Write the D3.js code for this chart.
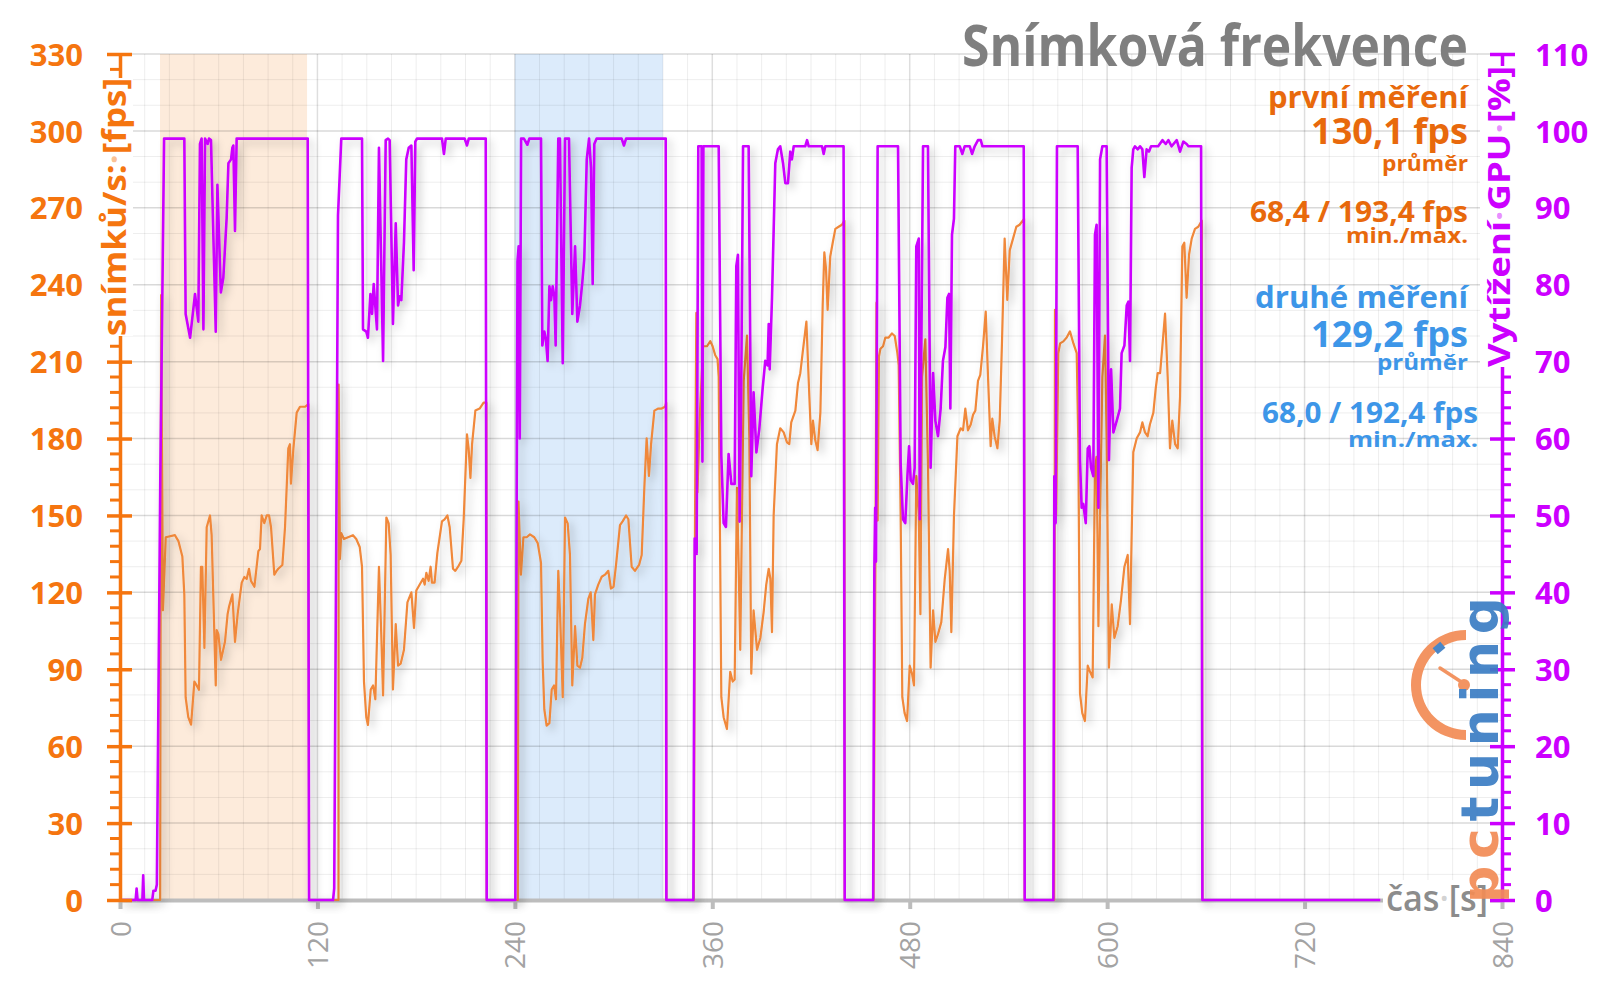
<!DOCTYPE html>
<html><head><meta charset="utf-8">
<script src="https://cdn.jsdelivr.net/npm/d3@7"></script>
<style>body{margin:0;background:#fff}svg{display:block}</style>
</head><body>
<svg id="chart" width="1600" height="998"></svg>
<script>
// ---- data (time in s) ----
const fpsTime = [0,24.4,25,26.1,27.8,33.4,35.5,37.9,39.1,39.9,41.5,43.2,45.2,46.6,48,49.2,50,51.3,52.7,54.7,55.7,56.7,58.2,58.8,59.8,61.4,63.8,65.4,66.3,68.3,69.9,71.5,74,75.6,77,78.4,79.6,81.7,84.1,85.1,86.1,87.7,89.2,90.6,91.8,93.8,95.2,96.2,98.7,100.3,102.3,103.3,103.9,105.4,107.4,109.4,112.5,114.5,114.9,
 132.8,132.9,133.7,134.5,136.1,138.6,141.6,143.6,145.7,147.1,148.3,149.7,150.7,152.4,153.8,155.2,157.4,158.8,159.9,161.9,163.3,164.5,165.9,167.6,169,170.6,172.6,174.7,177.1,178.7,180.1,182.1,184.2,185.2,186.2,187.6,188.8,189.6,191.2,192.9,195.7,197.3,199,200.4,202.4,203.8,205.5,207.5,208.9,210.9,211.9,213,214,216,218.6,221,222.7,222.9,
 241.8,242.2,243.7,245.2,247.2,249.2,251.8,253.9,255.9,256.9,257.9,259.3,261,262.4,263.8,265,266.4,267.4,269.1,270.5,272.1,273.5,274.9,276.6,278,279.6,281,282.6,284.7,286.1,287.7,288.7,290.7,292.8,294.8,296.8,298.4,300,301.5,303.9,305.5,307.6,309,311,313,315.5,317.1,318.7,320.1,321.5,322.8,324.8,327.2,329.2,331.3,332,332.1,
 348.8,349.5,350.3,351,352.5,354.4,356.8,358.8,360.2,361.8,363.2,363.9,365.5,366.9,368.9,370.9,372.4,373.6,375,376,377,379.1,381.1,382.5,383.7,385.1,387.2,389.2,391.2,392.8,394.3,395.3,396.3,397.3,399.3,401.3,403.4,405.4,406.8,408,410.5,412.1,413.5,414.9,417.2,419,420.2,421.2,422.6,424,425.7,427.1,428.1,429.1,430.1,431.7,433.2,434.8,436.8,438.8,440.3,440.5,
 458,459.3,459.8,460.5,461.3,462.2,463.8,465.2,467.2,469.2,470.9,472.5,473.3,474.5,475.5,476.9,478.4,480,481.4,482.6,484,485.5,486.5,487.5,489.5,491.1,492.7,494.2,495.6,497.2,499.2,501.3,503.3,504.3,505.3,506.9,509,511,512.4,513.8,515.4,517.1,518.5,519.9,521.5,522.9,524.6,526.2,527.6,529.2,530.2,531.6,533.3,534.7,536.1,537.7,539.3,540.8,542.8,544.8,546.8,549.5,549.9,
 567.8,568.3,569,570.3,571.4,573.4,575.4,577.4,579.5,581.5,582.5,583.5,584.9,586.5,588.2,589.6,591.2,592.6,593.6,594.7,595.7,597.1,598.7,599.7,601.1,602.8,604.4,606.4,608.4,610.5,612.5,613.9,614.9,615.9,618,620,621.4,623,624.6,626,628.1,629.5,630.7,632.2,633.6,635.2,636.8,638.2,639.6,641.3,642.9,644.3,645.7,646.9,648.3,649.8,651.4,653.4,655.4,657.6,657.9];
const fpsValues = [0,0,236,113,141.5,142.3,140,134,119,79,71.3,68.4,85.2,83.7,82,130,130,98.3,145.4,150,142.3,119,83.7,105.3,103.7,93.7,100.7,111.5,114.5,119.2,100.7,111.5,123.8,126,125.2,129.2,124.5,122.2,136.1,136.9,150,147,150,150,145.4,126.9,128.4,129.2,130.7,145.4,176.2,177.8,162.4,176.2,190.1,192.4,192.4,193.4,0,
 0,201,133,143.1,140.8,141.5,142.3,140.8,137.7,130,85.2,71.3,68.3,82.1,83.7,78.3,130,103.7,79.8,149.2,146.9,134.6,82.1,107.6,91.4,92.2,97.6,116.1,120,106.1,120.7,123,125.3,123,127.6,124.5,130,123.8,123.8,135.4,147.7,148.5,150,145.4,129.2,128.4,130,132.3,148.5,181.6,176.2,164.6,177.8,190.9,191.7,194,194,0,
 0,155.4,126.9,141.5,141.5,142.6,141.5,139.2,131.5,93,74.4,68,69,82.1,83.7,78.3,128.4,113,79.1,149.2,146.9,134.6,83.7,106.8,91.4,90.6,94.5,107.6,117.6,120,101.4,119.2,123,126.1,126.9,128.4,121.5,122.2,130.7,146.2,147.7,150,148.5,130,128.4,130.7,134.6,160.8,180.1,165.4,177.8,190.9,191.7,191.7,192.4,194,0,
 0,148,229,159,190,216,216,218,216,212.5,211,204,79.1,71.3,66.7,89,85.2,86,160.8,131.5,97.6,202.5,220.2,180.9,88.3,113,97.6,102.2,112.2,123,129.2,125.3,104.5,150,177.8,184,182.4,178.5,177.8,186.3,190.9,201.7,205.5,213.3,225.6,196.3,177.8,187,179.3,175.5,190.1,231.8,252.6,246.4,230.2,251,256.4,261.8,262.6,263.4,265,0,
 0,150,233,148,212,215,216,219.4,219.4,221,220,213.3,208.6,150,79.1,72.9,69.8,91.4,88.3,83.7,165.4,150,111.5,204,218.7,170,90.6,113,100.7,103.7,108.4,125.3,136.9,128.4,104.5,150,180.9,184,183.2,191.7,183.2,185.5,189.3,190.9,202.5,204.8,216.3,229.5,204,177,187.8,180.9,176.2,187,217.9,258,234.1,253.4,258,262.6,263.4,265.7,0,
 0,230.2,150,213.3,217.1,217.9,219.4,221.8,217.1,213.3,177.8,80.6,72.9,69.8,91.4,89,86.8,168.5,172.9,106.8,150,204,220.2,179.3,90.6,115.3,102.2,106.8,116.9,130,134.6,107.6,142.3,174.7,180.1,182.4,186.3,182.4,180.9,185.5,190.1,199.4,205.5,205.5,216.3,228.7,204,176.2,187,177.8,176.2,196.3,254.9,256.4,234.9,251.8,258,261.8,262.6,265,0];

const gpuTime = [0,9.5,10.1,10.7,13.6,14.1,14.6,19.6,20.3,21.6,22.4,24.5,26.8,
 39.1,39.9,42.6,45.6,47.6,48.6,49.6,50.7,51.7,53.3,54.1,55.3,58.2,59.2,61.3,62.8,64.8,65.9,67.5,68.3,68.9,69.9,70.9,114.1,114.9,
 129.5,130.2,131.8,132.5,134.5,
 147.1,147.7,149.7,150.7,152.2,153.2,154.2,156.2,157.4,159.9,161.5,162.9,163.9,165.9,167.6,169,170,171,172.6,174,175.5,177.1,178.5,179.5,180.5,195.7,196.9,198,209.5,210.9,212,222.3,222.9,
 240.3,241.6,242.3,243,243.8,
 245.5,247.6,248.8,255.9,256.7,257.9,258.9,259.9,261,262,263,264,264.8,266.4,267.4,269.1,270.5,272.9,274.9,276.6,278,279.6,281,282.2,283.7,285.1,286.3,287.3,288.3,289.7,304.9,306.3,307.6,331.7,332.1,
 348.5,349.3,350.5,351.5,353.5,354,354.6,
 363.9,365.5,366.9,368.3,369.9,371.6,373.6,374.6,375.6,376.6,377.6,378.7,382.1,383.7,385.1,386.8,388.6,390.6,392.2,393.6,394.3,394.9,396.3,398.3,399.9,401.3,403,404.4,406,407.4,408.4,409.5,416.5,417.6,418.6,426.7,427.7,428.7,439.8,440.5,
 457.8,458.5,459,459.5,460.5,
 472.9,474.5,475.9,477.3,478.6,479.6,480.6,482,483,484,485.5,486.1,487.1,488.1,491.1,492.7,494.2,495.6,497.2,498.8,500.2,501.7,502.9,503.9,504.7,505.7,506.9,507.7,510.4,512,513.4,516.5,517.9,519.5,521.5,523.2,524.2,549.3,549.9,
 567.3,567.9,568.7,569.5,
 582.1,583.5,584.5,585.5,587,588.2,589.2,590.2,591.6,592.6,593.6,594.7,595.7,597.1,599.7,601.1,602.4,603.8,605.8,607.8,608.8,610.5,611.9,612.9,613.9,614.9,615.9,616.9,618.6,620,621.4,622.6,624,625.4,626.7,631,633.6,635.6,637.2,639.2,642.3,644.3,646.3,648.3,649.4,657.1,657.9,766];
const gpuValues = [0,0,1.5,0,0,3.2,0,0,1.2,1.2,2,55,99,
 99,76.2,73.1,78.8,75.2,98.3,99,74.2,99,98.3,99,98.8,73.9,93,79,80.9,88.6,95.8,96.3,97.8,98.1,87,99,99,0,
 0,1.5,60,89,99,
 99,74.2,73.9,73.1,78.8,76.2,80.1,74.2,97.8,70.1,98.8,99,98.8,74.9,88,77.3,78.5,78,85.5,96.3,97.8,98.1,81.9,98.6,99,99,97,99,99,98.1,99,99,0,
 0,83,85,60,99,
 99,98.2,99,99,72.1,73.9,72.9,70.1,79.8,78,79.8,78.5,72.1,99,99,69.8,99,99,76.2,85,75.2,77.3,80.3,83.4,96.3,99,95.2,80.1,98.3,99,99,98.1,99,99,0,
 0,47,45,98,98,57,98,
 98,57.7,49,48.5,58,54.1,54.1,82.4,83.9,49.2,66.5,98,98,55.1,66,58.2,61.3,66.5,70.1,69.5,74.9,69,78.3,95.8,97.6,98,95.8,93.2,93.2,97.3,96.3,98,98,98.8,98,98,97,98,98,0,
 0,43,51,44,98,
 98,56.7,49.5,49,55.1,59,54.6,54.1,56.2,85,86,49.5,72.6,98,98,56.2,68.5,62.3,60.3,63.9,70.1,71.9,78.3,78.8,63.9,86.5,88.6,98,98,97,98,98,97,98,98.8,98.8,98,98,0,
 0,55.1,49,98,
 98,57.2,51,51.5,49,58.7,59,56.2,55.1,86.5,87.8,51,96.3,98,98,57.2,69,60.8,62.3,63.9,71.1,72.1,77.3,77.8,70.1,95.2,97.6,98,97.6,98,97.6,94,97.6,97.3,98,98,98.8,98.3,98.8,98,98.8,97.3,98.6,98.3,98,98,0,0];

const bandStart = [24.3, 240];
const bandEnd = [113.7, 330];
const bandFill = ["#fdebdb", "#dcebfb"];
const xTicks = [0,120,240,360,480,600,720,840];
const fpsTicks = [0,30,60,90,120,150,180,210,240,270,300,330];
const gpuTicks = [0,10,20,30,40,50,60,70,80,90,100,110];
const titleText = "Snímková frekvence";
const firstLegend = ["první měření","130,1 fps","průměr","68,4 / 193,4 fps","min./max."];
const secondLegend = ["druhé měření","129,2 fps","průměr","68,0 / 192,4 fps","min./max."];

// ---- chart ----
const svg = d3.select("#chart");
const FONT = "'Open Sans', 'Noto Sans', sans-serif";
const x = d3.scaleLinear([0, 840], [120, 1502]);
const yF = d3.scaleLinear([0, 330], [900, 54]);
const yG = d3.scaleLinear([0, 110], [900, 54]);

const defs = svg.append("defs");
const f = defs.append("filter").attr("id","sh").attr("x","-10%").attr("y","-10%").attr("width","130%").attr("height","130%");
f.append("feDropShadow").attr("dx",4).attr("dy",4).attr("stdDeviation",4).attr("flood-color","#000").attr("flood-opacity",0.22);

// bands
svg.append("g").selectAll("rect").data(bandStart).join("rect")
  .attr("x", d => x(d)).attr("y", yF(330))
  .attr("width", (d,i) => x(bandEnd[i]) - x(d)).attr("height", yF(0) - yF(330))
  .attr("fill", (d,i) => bandFill[i]);

// grid
const grid = svg.append("g");
grid.selectAll("line.hm").data(d3.range(0, 331, 10).filter(v => v % 30)).join("line")
  .attr("x1", x(0)).attr("x2", x(840)).attr("y1", d => yF(d)).attr("y2", d => yF(d))
  .attr("stroke", "rgba(0,0,0,0.07)").attr("stroke-width", 1);
grid.selectAll("line.vm").data(d3.range(0, 841, 15).filter(v => v % 120)).join("line")
  .attr("y1", yF(0)).attr("y2", yF(330)).attr("x1", d => x(d)).attr("x2", d => x(d))
  .attr("stroke", "rgba(0,0,0,0.07)").attr("stroke-width", 1);
grid.selectAll("line.hM").data(fpsTicks).join("line")
  .attr("x1", x(0)).attr("x2", x(840)).attr("y1", d => yF(d)).attr("y2", d => yF(d))
  .attr("stroke", "rgba(0,0,0,0.15)").attr("stroke-width", 1.5);
grid.selectAll("line.vM").data(xTicks).join("line")
  .attr("y1", yF(0)).attr("y2", yF(330)).attr("x1", d => x(d)).attr("x2", d => x(d))
  .attr("stroke", "rgba(0,0,0,0.13)").attr("stroke-width", 1.5);

// x axis
const gx = svg.append("g").attr("transform", `translate(0,${yF(0)})`)
  .call(d3.axisBottom(x).tickValues(xTicks).tickSize(9).tickSizeOuter(0).tickFormat(d3.format("d")));
gx.select(".domain").attr("stroke", "#bdbdbd").attr("stroke-width", 4);
gx.selectAll(".tick line").attr("stroke", "#bdbdbd").attr("stroke-width", 4);
gx.selectAll(".tick text").attr("font-family", FONT).attr("font-size", 28).attr("fill", "#a3a3a3")
  .attr("text-anchor", "end").attr("dy", "0.36em").attr("y", 0)
  .attr("transform", "translate(0,21) rotate(-90)");

// lines
const fpsData = fpsTime.map((t,i) => [t, fpsValues[i]]);
const gpuData = gpuTime.map((t,i) => [t, gpuValues[i]]);
svg.append("path").datum(fpsData)
  .attr("d", d3.line().x(d => x(d[0])).y(d => yF(d[1])))
  .attr("fill", "none").attr("stroke", "#f0883a").attr("stroke-width", 2.2)
  .attr("stroke-linejoin", "round").attr("filter", "url(#sh)");
svg.append("path").datum(gpuData)
  .attr("d", d3.line().x(d => x(d[0])).y(d => yG(d[1])))
  .attr("fill", "none").attr("stroke", "#cc00ff").attr("stroke-width", 2.6)
  .attr("stroke-linejoin", "round").attr("filter", "url(#sh)");

// left axis
const ORANGE = "#f5750f", PURPLE = "#cc00ff";
const gl = svg.append("g").attr("transform", `translate(${x(0)},0)`);
gl.selectAll("line.mn").data(d3.range(0, 331, 6).filter(v => v % 30)).join("line")
  .attr("x1", -10).attr("x2", 0).attr("y1", d => yF(d)).attr("y2", d => yF(d))
  .attr("stroke", ORANGE).attr("stroke-width", 3);
gl.call(d3.axisLeft(yF).tickValues(fpsTicks).tickSize(13).tickSizeOuter(0));
gl.select(".domain").attr("stroke", ORANGE).attr("stroke-width", 3.5);
gl.selectAll(".tick line").attr("stroke", ORANGE).attr("stroke-width", 3.5).attr("x1", 12);
gl.selectAll(".tick text").attr("font-family", FONT).attr("font-weight", 700).attr("font-size", 31)
  .attr("fill", ORANGE).attr("x", -37).attr("dy", "0.36em");

// right axis
const gr = svg.append("g").attr("transform", `translate(${x(840)},0)`);
gr.selectAll("line.mn").data(d3.range(0, 111, 2).filter(v => v % 10)).join("line")
  .attr("x1", 0).attr("x2", 9).attr("y1", d => yG(d)).attr("y2", d => yG(d))
  .attr("stroke", PURPLE).attr("stroke-width", 3);
gr.call(d3.axisRight(yG).tickValues(gpuTicks).tickSize(13).tickSizeOuter(0));
gr.select(".domain").attr("stroke", PURPLE).attr("stroke-width", 3.5);
gr.selectAll(".tick line").attr("stroke", PURPLE).attr("stroke-width", 3.5).attr("x1", -12);
gr.selectAll(".tick text").attr("font-family", FONT).attr("font-weight", 700).attr("font-size", 31)
  .attr("fill", PURPLE).attr("x", 33).attr("dy", "0.36em");

// axis titles with white boxes
function vTitle(cx, yTop, yBot, color, parts, size) {
  svg.append("rect").attr("x", cx - 20).attr("y", yTop).attr("width", 38).attr("height", yBot - yTop).attr("fill", "#fff");
  const t = svg.append("text").attr("transform", `translate(${cx + 0.33*size},${yBot}) rotate(-90)`)
    .attr("font-family", FONT).attr("font-weight", 700).attr("font-size", size).attr("fill", color)
    .attr("textLength", yBot - yTop).attr("lengthAdjust", "spacingAndGlyphs");
  parts.forEach(p => t.append("tspan").text(p[0]).attr("fill-opacity", p[1]));
}
vTitle(115, 78, 336, ORANGE, [["snímků/s:",1],["·",0.45],["[fps]",1]], 32);
vTitle(1500, 66, 367, PURPLE, [["Vytížení",1],["·",0.45],["GPU",1],["·",0.45],["[%]",1]], 31);

// x axis title
svg.append("rect").attr("x", 1383).attr("y", 880).attr("width", 107).attr("height", 38).attr("fill", "#fff");
const xt = svg.append("text").attr("x", 1488).attr("y", 911).attr("text-anchor", "end")
  .attr("font-family", FONT).attr("font-weight", 600).attr("font-size", 36).attr("fill", "#8c8c8c")
  .attr("textLength", 102).attr("lengthAdjust", "spacingAndGlyphs");
xt.append("tspan").text("čas");
xt.append("tspan").text("·").attr("fill-opacity", 0.4);
xt.append("tspan").text("[s]");

// title
svg.append("text").attr("x", 1468).attr("y", 66).attr("text-anchor", "end")
  .attr("font-family", FONT).attr("font-weight", 700).attr("font-size", 57).attr("fill", "#7f7f7f")
  .attr("textLength", 506).attr("lengthAdjust", "spacingAndGlyphs").text(titleText);

// legend blocks  [baseline y, font size, width, right x]
const legSpec1 = [[108, 30, 200, 1468], [144, 35, 157, 1468], [171, 22, 86, 1468], [222, 29, 218, 1468], [243, 21, 122, 1468]];
const legSpec2 = [[308, 30, 213, 1468], [347, 35, 157, 1468], [370, 22, 91, 1468], [423, 29, 216, 1478], [447, 21, 130, 1478]];
function legend(texts, spec, color) {
  svg.append("g").selectAll("text").data(texts).join("text")
    .attr("x", (d,i) => spec[i][3]).attr("y", (d,i) => spec[i][0]).attr("text-anchor", "end")
    .attr("font-family", FONT).attr("font-weight", 700)
    .attr("font-size", (d,i) => spec[i][1]).attr("fill", color)
    .attr("textLength", (d,i) => spec[i][2]).attr("lengthAdjust", "spacingAndGlyphs")
    .text(d => d);
}
legend(firstLegend, legSpec1, "#e8690c");
legend(secondLegend, legSpec2, "#3d96e8");

// logo
const logo = svg.append("g").attr("opacity", 0.92);
const LC = [1466, 685];
logo.append("path").attr("transform", `translate(${LC[0]},${LC[1]})`)
  .attr("d", d3.arc()({innerRadius: 45, outerRadius: 55, startAngle: Math.PI, endAngle: 2 * Math.PI}))
  .attr("fill", "#f28c55");
logo.append("rect").attr("x", -5).attr("y", -4).attr("width", 10).attr("height", 8)
  .attr("transform", "translate(1439,648) rotate(-40)").attr("fill", "#3b7dc4");
logo.append("line").attr("x1", LC[0]).attr("y1", LC[1]).attr("x2", 1440).attr("y2", 668)
  .attr("stroke", "#f28c55").attr("stroke-width", 3.5).attr("stroke-linecap", "round");
logo.append("circle").attr("cx", LC[0] - 2).attr("cy", LC[1]).attr("r", 6).attr("fill", "#f28c55");
const lt = logo.append("text").attr("transform", "translate(1498,903) rotate(-90)")
  .attr("font-family", "'DejaVu Sans', sans-serif").attr("font-weight", 700).attr("font-size", 52)
  .attr("textLength", 306).attr("lengthAdjust", "spacing");
lt.append("tspan").text("pc").attr("fill", "#f28c55");
lt.append("tspan").text("tuning").attr("fill", "#3b7dc4");
</script>
</body></html>
